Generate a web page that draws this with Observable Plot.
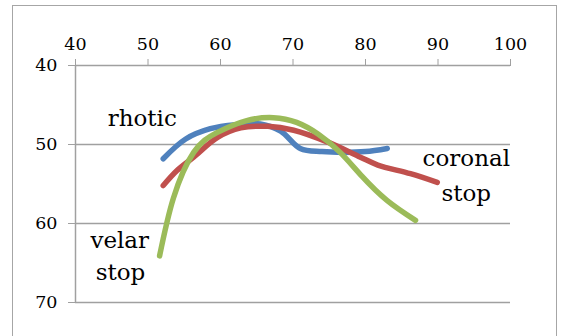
<!DOCTYPE html>
<html><head><meta charset="utf-8">
<script src="https://cdn.jsdelivr.net/npm/d3@7"></script>
<script src="https://cdn.jsdelivr.net/npm/@observablehq/plot@0.6"></script>
<style>
body{margin:0;background:#fff;}
#wrap{position:relative;width:562px;height:336px;overflow:hidden;}
#border{position:absolute;left:12px;top:5px;width:543px;height:340px;border:1.5px solid #a6a6a6;pointer-events:none;}
#wrap svg{position:absolute;left:0;top:0;}
</style></head><body><div id="wrap"><div id="border"></div></div>
<script>
const xTicks = [40, 50, 60, 70, 80, 90, 100];
const yTicks = [40, 50, 60, 70];
const gridY = [50, 60, 70];
const rhoticX = [52.1, 55.2, 58.6, 62.1, 65.5, 68.3, 71.0, 74.0, 77.0, 80.0, 83.0];
const rhoticY = [51.8, 49.3, 48.0, 47.5, 47.4, 48.3, 50.5, 50.9, 51.0, 50.9, 50.5];
const coronalX = [52.1, 54.0, 56.3, 59.6, 62.8, 66.5, 70.1, 74.8, 79.3, 81.7, 86.2, 89.9];
const coronalY = [55.2, 53.3, 51.6, 49.1, 47.9, 47.7, 48.2, 49.7, 51.6, 52.6, 53.7, 54.8];
const velarX = [51.6, 53.5, 56.3, 59.5, 63.5, 67.3, 70.5, 73.5, 76.5, 79.5, 83.0, 86.9];
const velarY = [64.1, 56.8, 51.0, 48.5, 47.0, 46.6, 47.2, 48.7, 51.0, 54.0, 57.1, 59.6];
const seriesColors = ["#4F81BD", "#C0504D", "#9BBB59"];
const labelText = ["rhotic", "coronal", "stop", "velar", "stop"];
const labelX = [49.2, 93.9, 93.9, 46.1, 46.2];
const labelY = [46.7, 51.8, 56.2, 62.2, 66.2];

const toRows = (xs, ys) => xs.map((x, i) => ({x, y: ys[i]}));
const labels = labelText.map((t, i) => ({t, x: labelX[i], y: labelY[i]}));
const font = "DejaVu Serif, serif";

const chart = Plot.plot({
  width: 562, height: 336,
  marginLeft: 75, marginRight: 52, marginTop: 65, marginBottom: 34,
  x: {domain: [40, 100]},
  y: {domain: [40, 70], reverse: true},
  style: {fontFamily: font, fontSize: "17.5px", background: "transparent"},
  marks: [
    Plot.ruleY(gridY, {stroke: "#a0a0a0", strokeWidth: 1.3}),
    Plot.ruleY([40], {stroke: "#a0a0a0", strokeWidth: 1.3}),
    Plot.ruleX([40], {stroke: "#a0a0a0", strokeWidth: 1.5}),
    Plot.axisX({anchor: "top", ticks: xTicks, tickSize: 7, tickPadding: 9, stroke: "#a0a0a0", fill: "#000", fontSize: 17.5, label: null}),
    Plot.axisY({ticks: yTicks, tickSize: 7, tickPadding: 11, stroke: "#a0a0a0", fill: "#000", fontSize: 17.5, label: null}),
    Plot.line(toRows(rhoticX, rhoticY), {x: "x", y: "y", stroke: seriesColors[0], strokeWidth: 5.5, curve: "catmull-rom"}),
    Plot.line(toRows(coronalX, coronalY), {x: "x", y: "y", stroke: seriesColors[1], strokeWidth: 5.5, curve: "catmull-rom"}),
    Plot.line(toRows(velarX, velarY), {x: "x", y: "y", stroke: seriesColors[2], strokeWidth: 5.5, curve: "natural"}),
    Plot.text(labels, {x: "x", y: "y", text: "t", fontSize: 23, fill: "#000", fontFamily: font})
  ]
});
document.getElementById("wrap").appendChild(chart);
</script></body></html>
